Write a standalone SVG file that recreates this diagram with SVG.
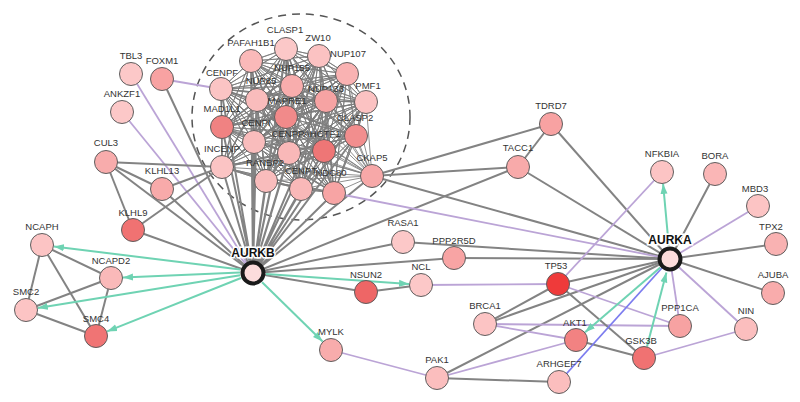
<svg xmlns="http://www.w3.org/2000/svg" width="800" height="402" viewBox="0 0 800 402">
<defs>
<marker id="ah" markerUnits="userSpaceOnUse" markerWidth="10" markerHeight="8" refX="10" refY="4" orient="auto"><path d="M0,0.5 L10,4 L0,7.5 z" fill="#6fd3b3"/></marker>
<style>
.g{stroke:#838383;stroke-width:2;fill:none}
.p{stroke:#bba4d6;stroke-width:1.8;fill:none}
.t{stroke:#6fd3b3;stroke-width:2;fill:none;marker-end:url(#ah)}
.b{stroke:#7c7cef;stroke-width:1.8;fill:none}
.mesh{stroke:#7d7d7d;stroke-width:1;fill:none;stroke-linejoin:round;opacity:0.85}
.n circle{stroke:#5e5e5e;stroke-width:1}
.n text{font-family:"Liberation Sans",Arial,sans-serif;font-size:9.5px;fill:#333;text-anchor:middle}
.h circle{stroke:#1a1a1a;stroke-width:4;fill:#fcdcdc}
.h text{font-family:"Liberation Sans",Arial,sans-serif;font-size:12px;font-weight:bold;fill:#111;text-anchor:middle;stroke:#fff;stroke-width:3;paint-order:stroke}
</style>
</defs>
<rect width="800" height="402" fill="#fff"/>
<ellipse cx="301" cy="117" rx="109" ry="103" fill="none" stroke="#555" stroke-width="1.5" stroke-dasharray="8,6"/>
<g id="connectors">
<path class="mesh" d="M286 49 319 56 286 49 251 61 286 49 347 74 286 49 221 89 286 49 292 86 286 49 257 100 286 49 326 101 286 49 366 102 286 49 286 117 286 49 222 127 286 49 254 142 286 49 356 136 286 49 289 153 286 49 324 151 286 49 222 167 286 49 266 181 286 49 301 189 286 49 334 193 286 49 372 176
M319 56 251 61 319 56 347 74 319 56 221 89 319 56 292 86 319 56 257 100 319 56 326 101 319 56 366 102 319 56 286 117 319 56 222 127 319 56 254 142 319 56 356 136 319 56 289 153 319 56 324 151 319 56 222 167 319 56 266 181 319 56 301 189 319 56 334 193 319 56 372 176
M251 61 347 74 251 61 221 89 251 61 292 86 251 61 257 100 251 61 326 101 251 61 366 102 251 61 286 117 251 61 222 127 251 61 254 142 251 61 356 136 251 61 289 153 251 61 324 151 251 61 222 167 251 61 266 181 251 61 301 189 251 61 334 193 251 61 372 176
M347 74 221 89 347 74 292 86 347 74 257 100 347 74 326 101 347 74 366 102 347 74 286 117 347 74 222 127 347 74 254 142 347 74 356 136 347 74 289 153 347 74 324 151 347 74 222 167 347 74 266 181 347 74 301 189 347 74 334 193 347 74 372 176
M221 89 292 86 221 89 257 100 221 89 326 101 221 89 366 102 221 89 286 117 221 89 222 127 221 89 254 142 221 89 356 136 221 89 289 153 221 89 324 151 221 89 222 167 221 89 266 181 221 89 301 189 221 89 334 193 221 89 372 176
M292 86 257 100 292 86 326 101 292 86 366 102 292 86 286 117 292 86 222 127 292 86 254 142 292 86 356 136 292 86 289 153 292 86 324 151 292 86 222 167 292 86 266 181 292 86 301 189 292 86 334 193 292 86 372 176
M257 100 326 101 257 100 366 102 257 100 286 117 257 100 222 127 257 100 254 142 257 100 356 136 257 100 289 153 257 100 324 151 257 100 222 167 257 100 266 181 257 100 301 189 257 100 334 193 257 100 372 176
M326 101 366 102 326 101 286 117 326 101 222 127 326 101 254 142 326 101 356 136 326 101 289 153 326 101 324 151 326 101 222 167 326 101 266 181 326 101 301 189 326 101 334 193 326 101 372 176
M366 102 286 117 366 102 222 127 366 102 254 142 366 102 356 136 366 102 289 153 366 102 324 151 366 102 222 167 366 102 266 181 366 102 301 189 366 102 334 193 366 102 372 176
M286 117 222 127 286 117 254 142 286 117 356 136 286 117 289 153 286 117 324 151 286 117 222 167 286 117 266 181 286 117 301 189 286 117 334 193 286 117 372 176
M222 127 254 142 222 127 356 136 222 127 289 153 222 127 324 151 222 127 222 167 222 127 266 181 222 127 301 189 222 127 334 193 222 127 372 176
M254 142 356 136 254 142 289 153 254 142 324 151 254 142 222 167 254 142 266 181 254 142 301 189 254 142 334 193 254 142 372 176
M356 136 289 153 356 136 324 151 356 136 222 167 356 136 266 181 356 136 301 189 356 136 334 193 356 136 372 176
M289 153 324 151 289 153 222 167 289 153 266 181 289 153 301 189 289 153 334 193 289 153 372 176
M324 151 222 167 324 151 266 181 324 151 301 189 324 151 334 193 324 151 372 176
M222 167 266 181 222 167 301 189 222 167 334 193 222 167 372 176
M266 181 301 189 266 181 334 193 266 181 372 176
M301 189 334 193 301 189 372 176
M334 193 372 176"/>
<path class="g" stroke-linejoin="round" d="M253 273 286 49 253 273 319 56 253 273 251 61 253 273 347 74 253 273 221 89 253 273 292 86 253 273 257 100 253 273 326 101 253 273 366 102 253 273 286 117 253 273 222 127 253 273 254 142 253 273 356 136 253 273 289 153 253 273 324 151 253 273 222 167 253 273 266 181 253 273 301 189 253 273 334 193 253 273 372 176"/>
<path class="p" d="M131 74 253 273"/>
<path class="p" d="M122 112 253 273"/>
<path class="g" d="M162 79 253 273"/>
<path class="p" d="M162 79 221 89"/>
<path class="g" d="M106 162 253 273"/>
<path class="g" d="M162 189 253 273"/>
<path class="g" d="M133 230 253 273"/>
<path class="g" d="M106 162 222 167"/>
<path class="g" d="M106 162 162 189"/>
<path class="g" d="M106 162 133 230"/>
<path class="g" d="M162 189 222 167"/>
<path class="g" d="M133 230 222 167"/>
<path class="g" d="M42 245 111 278"/>
<path class="g" d="M42 245 26 310"/>
<path class="g" d="M42 245 96 336"/>
<path class="g" d="M111 278 26 310"/>
<path class="g" d="M111 278 96 336"/>
<path class="g" d="M26 310 96 336"/>
<path class="g" d="M253 273 403 242"/>
<path class="g" d="M253 273 454 258"/>
<path class="g" d="M253 273 366 292"/>
<path class="g" d="M253 273 518 167"/>
<path class="g" d="M366 292 421 285"/>
<path class="g" d="M372 176 551 124"/>
<path class="g" d="M372 176 518 167"/>
<path class="g" d="M372 176 670 259"/>
<path class="p" d="M334 193 670 259"/>
<path class="g" d="M551 124 518 167"/>
<path class="g" d="M551 124 670 259"/>
<path class="g" d="M518 167 670 259"/>
<path class="g" d="M403 242 670 259"/>
<path class="g" d="M454 258 670 259"/>
<path class="p" d="M421 285 558 284"/>
<path class="p" d="M331 350 437 378"/>
<path class="g" d="M437 378 559 382"/>
<path class="g" d="M437 378 670 259"/>
<path class="p" d="M437 378 576 340"/>
<path class="g" d="M485 324 558 284"/>
<path class="g" d="M485 324 670 259"/>
<path class="p" d="M485 324 680 326"/>
<path class="p" d="M485 324 576 340"/>
<path class="g" d="M558 284 670 259"/>
<path class="p" d="M558 284 662 172"/>
<path class="p" d="M558 284 680 326"/>
<path class="g" d="M558 284 644 358"/>
<path class="g" d="M576 340 644 358"/>
<path class="p" d="M644 358 746 329"/>
<path class="p" d="M670 259 746 329"/>
<path class="p" d="M670 259 680 326"/>
<path class="p" d="M670 259 758 206"/>
<path class="g" d="M670 259 715 174"/>
<path class="g" d="M670 259 776 244"/>
<path class="g" d="M670 259 773 293"/>
<path class="b" d="M559 382 670 259"/>
<path class="t" d="M240.1 269.4 53.9 246.5"/>
<path class="t" d="M240 272.6 123 277.4"/>
<path class="t" d="M240.2 275.2 37.8 308"/>
<path class="t" d="M241 278 107.1 331.4"/>
<path class="t" d="M266 274.1 409 284"/>
<path class="t" d="M262.1 282.3 322.6 341.5"/>
<path class="t" d="M668.8 246 663.1 183.9"/>
<path class="t" d="M660.2 267.5 585.1 332.2"/>
<path class="t" d="M647 346.4 666.4 272.5"/>
</g>
<g id="n-CLASP1" class="n"><text x="285" y="33">CLASP1</text><circle cx="286" cy="49" r="11.5" fill="#fbc8c8"/></g>
<g id="n-ZW10" class="n"><text x="318" y="40.5">ZW10</text><circle cx="319" cy="56" r="11.5" fill="#fbc2c2"/></g>
<g id="n-PAFAH1B1" class="n"><text x="251" y="45.5">PAFAH1B1</text><circle cx="251" cy="61" r="11.5" fill="#fab9b9"/></g>
<g id="n-NUP107" class="n"><text x="348" y="56.5">NUP107</text><circle cx="347" cy="74" r="11.5" fill="#f9b2b2"/></g>
<g id="n-CENPF" class="n"><text x="222" y="75.5">CENPF</text><circle cx="221" cy="89" r="11.5" fill="#fbc4c4"/></g>
<g id="n-NUP155" class="n"><text x="292" y="70.5">NUP155</text><circle cx="292" cy="86" r="11.5" fill="#f8adad"/></g>
<g id="n-NUP85" class="n"><text x="261" y="83.5">NUP85</text><circle cx="257" cy="100" r="11.5" fill="#f9bcbc"/></g>
<g id="n-PMF1" class="n"><text x="368" y="88.5">PMF1</text><circle cx="366" cy="102" r="11.5" fill="#fbc2c2"/></g>
<g id="n-NUP133" class="n"><text x="326" y="91.5">NUP133</text><circle cx="326" cy="101" r="11.5" fill="#f6a3a3"/></g>
<g id="n-MAPRE1" class="n"><text x="287" y="103.5">MAPRE1</text><circle cx="286" cy="117" r="11.5" fill="#f18a8a"/></g>
<g id="n-MAD1L1" class="n"><text x="222" y="111.5">MAD1L1</text><circle cx="222" cy="127" r="11.5" fill="#f08282"/></g>
<g id="n-CENPI" class="n"><text x="256" y="125.5">CENPI</text><circle cx="254" cy="142" r="11.5" fill="#f9bcbc"/></g>
<g id="n-CLASP2" class="n"><text x="355" y="120.5">CLASP2</text><circle cx="356" cy="136" r="11.5" fill="#f28e8e"/></g>
<g id="n-CENPP" class="n"><text x="288" y="136.5">CENPP</text><circle cx="289" cy="153" r="11.5" fill="#f9b8b8"/></g>
<g id="n-AHCTF1" class="n"><text x="322" y="136.5">AHCTF1</text><circle cx="324" cy="151" r="11.5" fill="#ee7676"/></g>
<g id="n-INCENP" class="n"><text x="222" y="151.5">INCENP</text><circle cx="222" cy="167" r="11.5" fill="#fbc4c4"/></g>
<g id="n-RANBP2" class="n"><text x="265" y="165.5">RANBP2</text><circle cx="266" cy="181" r="11.5" fill="#f9bcbc"/></g>
<g id="n-CENPT" class="n"><text x="301" y="173.5">CENPT</text><circle cx="301" cy="189" r="11.5" fill="#f9b8b8"/></g>
<g id="n-NDC80" class="n"><text x="331" y="175.5">NDC80</text><circle cx="334" cy="193" r="11.5" fill="#f7a4a4"/></g>
<g id="n-CKAP5" class="n"><text x="372" y="160.5">CKAP5</text><circle cx="372" cy="176" r="11.5" fill="#f7a8a8"/></g>
<g id="n-TBL3" class="n"><circle cx="131" cy="74" r="11.5" fill="#fcc8c8"/><text x="131" y="58.5">TBL3</text></g>
<g id="n-FOXM1" class="n"><circle cx="162" cy="79" r="11.5" fill="#f8a2a2"/><text x="162" y="63.5">FOXM1</text></g>
<g id="n-ANKZF1" class="n"><circle cx="122" cy="112" r="11.5" fill="#fcc8c8"/><text x="122" y="96.5">ANKZF1</text></g>
<g id="n-CUL3" class="n"><circle cx="106" cy="162" r="11.5" fill="#f8acac"/><text x="106" y="145.5">CUL3</text></g>
<g id="n-KLHL13" class="n"><circle cx="162" cy="189" r="11.5" fill="#f8aaaa"/><text x="162" y="173.5">KLHL13</text></g>
<g id="n-KLHL9" class="n"><circle cx="133" cy="230" r="11.5" fill="#f07272"/><text x="133" y="215.5">KLHL9</text></g>
<g id="n-NCAPH" class="n"><circle cx="42" cy="245" r="11.5" fill="#fcc4c4"/><text x="42" y="229.5">NCAPH</text></g>
<g id="n-NCAPD2" class="n"><circle cx="111" cy="278" r="11.5" fill="#fab9b9"/><text x="111" y="263.5">NCAPD2</text></g>
<g id="n-SMC2" class="n"><circle cx="26" cy="310" r="11.5" fill="#fcc4c4"/><text x="26" y="294.5">SMC2</text></g>
<g id="n-SMC4" class="n"><circle cx="96" cy="336" r="11.5" fill="#f07474"/><text x="96" y="321.5">SMC4</text></g>
<g id="n-RASA1" class="n"><circle cx="403" cy="242" r="11.5" fill="#fcc8c8"/><text x="403" y="225.5">RASA1</text></g>
<g id="n-PPP2R5D" class="n"><circle cx="454" cy="258" r="11.5" fill="#f8a4a4"/><text x="454" y="243.5">PPP2R5D</text></g>
<g id="n-NCL" class="n"><circle cx="421" cy="285" r="11.5" fill="#fcc8c8"/><text x="421" y="269.5">NCL</text></g>
<g id="n-NSUN2" class="n"><circle cx="366" cy="292" r="11.5" fill="#ee6666"/><text x="366" y="277.5">NSUN2</text></g>
<g id="n-MYLK" class="n"><circle cx="331" cy="350" r="11.5" fill="#f8acac"/><text x="331" y="334.5">MYLK</text></g>
<g id="n-PAK1" class="n"><circle cx="437" cy="378" r="11.5" fill="#fbbebe"/><text x="437" y="362.5">PAK1</text></g>
<g id="n-BRCA1" class="n"><circle cx="485" cy="324" r="11.5" fill="#fcc4c4"/><text x="485" y="308.5">BRCA1</text></g>
<g id="n-TDRD7" class="n"><circle cx="551" cy="124" r="11.5" fill="#f8a2a2"/><text x="551" y="108.5">TDRD7</text></g>
<g id="n-TACC1" class="n"><circle cx="518" cy="167" r="11.5" fill="#f8aaaa"/><text x="518" y="150.5">TACC1</text></g>
<g id="n-NFKBIA" class="n"><circle cx="662" cy="172" r="11.5" fill="#fcc4c4"/><text x="662" y="156.5">NFKBIA</text></g>
<g id="n-BORA" class="n"><circle cx="715" cy="174" r="11.5" fill="#fab6b6"/><text x="715" y="158.5">BORA</text></g>
<g id="n-MBD3" class="n"><circle cx="758" cy="206" r="11.5" fill="#fcc4c4"/><text x="755" y="191.5">MBD3</text></g>
<g id="n-TPX2" class="n"><circle cx="776" cy="244" r="11.5" fill="#f9b2b2"/><text x="771" y="229.5">TPX2</text></g>
<g id="n-AJUBA" class="n"><circle cx="773" cy="293" r="11.5" fill="#f9acac"/><text x="773" y="277.5">AJUBA</text></g>
<g id="n-NIN" class="n"><circle cx="746" cy="329" r="11.5" fill="#fbbebe"/><text x="746" y="313.5">NIN</text></g>
<g id="n-PPP1CA" class="n"><circle cx="680" cy="326" r="11.5" fill="#f7a2a2"/><text x="680" y="310.5">PPP1CA</text></g>
<g id="n-TP53" class="n"><circle cx="558" cy="284" r="11.5" fill="#ef3a3a"/><text x="556" y="268.5">TP53</text></g>
<g id="n-AKT1" class="n"><circle cx="576" cy="340" r="11.5" fill="#f28282"/><text x="575" y="325.5">AKT1</text></g>
<g id="n-GSK3B" class="n"><circle cx="644" cy="358" r="11.5" fill="#f07272"/><text x="641" y="343.5">GSK3B</text></g>
<g id="n-ARHGEF7" class="n"><circle cx="559" cy="382" r="11.5" fill="#fbbebe"/><text x="559" y="366.5">ARHGEF7</text></g>
<g id="n-AURKB" class="h"><circle cx="253" cy="273" r="10.5"/><text x="253" y="257">AURKB</text></g>
<g id="n-AURKA" class="h"><circle cx="670" cy="259" r="10.5"/><text x="670" y="243.5">AURKA</text></g>
</svg>
